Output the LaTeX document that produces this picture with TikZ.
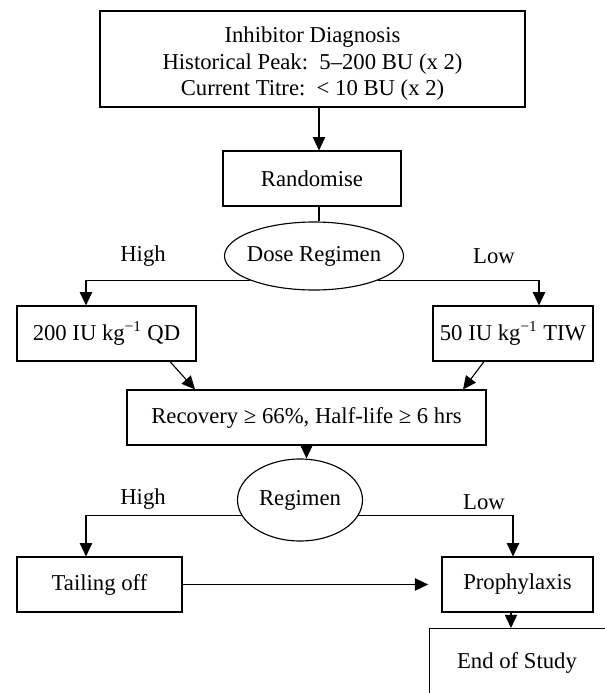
\documentclass[tikz,border=0pt]{standalone}
\usepackage{fontspec}
\setmainfont{Liberation Serif}
\usetikzlibrary{arrows.meta,shapes.geometric,calc}
\tikzset{
  box/.style={draw, line width=0.6pt, rectangle, inner sep=0pt, align=center},
  oval/.style={draw, line width=0.6pt, ellipse, inner ysep=0pt, inner xsep=-8pt},
  con/.style={line width=0.6pt},
  arr/.style={line width=0.6pt, -{Triangle[length=7pt,width=6.5pt]}},
  lbl/.style={inner sep=0pt, align=center}
}
\begin{document}
\begin{tikzpicture}[x=0.5289pt,y=-0.5289pt,font=\fontsize{12}{14}\selectfont]
\useasboundingbox (0,0) rectangle (605,693);
\clip (0,0) rectangle (605,693);
% nodes
\node[box, minimum width=425*0.5289pt, minimum height=96*0.5289pt] (top) at (312.5,59) {};
\node[lbl] (toptext) at (312.5,64)
  {Inhibitor Diagnosis\\Historical Peak:\ \ 5–200 BU (x 2)\\Current Titre:\ \ < 10 BU (x 2)};
\node[box, minimum width=178*0.5289pt, minimum height=55*0.5289pt] (rand) at (312,178.5) {Randomise};
\node[oval, minimum width=179*0.5289pt, minimum height=68*0.5289pt] (dose) at (314,256) {Dose Regimen};
\node[box, minimum width=179*0.5289pt, minimum height=55*0.5289pt] (hi) at (106.5,333.5) {200 IU kg\textsuperscript{−1} QD};
\node[box, minimum width=160*0.5289pt, minimum height=55*0.5289pt] (lo) at (513,333.5) {50 IU kg\textsuperscript{−1} TIW};
\node[box, minimum width=359*0.5289pt, minimum height=55*0.5289pt] (rec) at (306.5,417.5) {Recovery ≥ 66\%, Half-life ≥ 6 hrs};
\node[oval, minimum width=125*0.5289pt, minimum height=82*0.5289pt] (reg) at (300,500) {Regimen};
\node[box, minimum width=165*0.5289pt, minimum height=55*0.5289pt] (tail) at (99.5,584.5) {Tailing off};
\node[box, minimum width=151*0.5289pt, minimum height=55*0.5289pt] (pro) at (517.5,584.5) {Prophylaxis};
\node[box, anchor=north west, minimum width=220*0.5289pt, minimum height=100*0.5289pt] (endb) at (429,628) {};
\node[lbl] (endt) at (517,663) {End of Study};
% labels
\node[lbl] (h1) at (143,256) {High};
\node[lbl] (l1) at (494,256) {Low};
\node[lbl] (h2) at (143,499) {High};
\node[lbl] (l2) at (484,502) {Low};
% helper coordinates
\coordinate (ax) at (319,0);
\coordinate (hx) at (86,0);
\coordinate (lx) at (539,0);
\coordinate (d1s) at (170,0);
\coordinate (d1e) at (195,0);
\coordinate (d2s) at (484,0);
\coordinate (d2e) at (463,0);
\coordinate (px) at (513,0);
\coordinate (ex) at (511,0);
% connectors
\draw[arr] (top.south -| ax) -- (rand.north -| ax);
\draw[con] (rand.south -| ax) -- (dose.north -| ax);
\draw[arr] (dose.south west) -- (dose.south west -| hx) -- (hx |- hi.north);
\draw[arr] (dose.south east) -- (dose.south east -| lx) -- (lx |- lo.north);
\draw[arr] (hi.south -| d1s) -- (rec.north -| d1e);
\draw[arr] (lo.south -| d2s) -- (rec.north -| d2e);
\draw[arr] (rec.south) -- (rec.south |- reg.north);
\draw[arr] (reg.195) -- (reg.195 -| hx) -- (hx |- tail.north);
\draw[arr] (reg.345) -- (reg.345 -| px) -- (px |- pro.north);
\draw[arr, shorten >=7pt] (tail.east) -- (pro.west);
\draw[arr] (pro.south -| ex) -- (endb.north -| ex);
\end{tikzpicture}
\end{document}
